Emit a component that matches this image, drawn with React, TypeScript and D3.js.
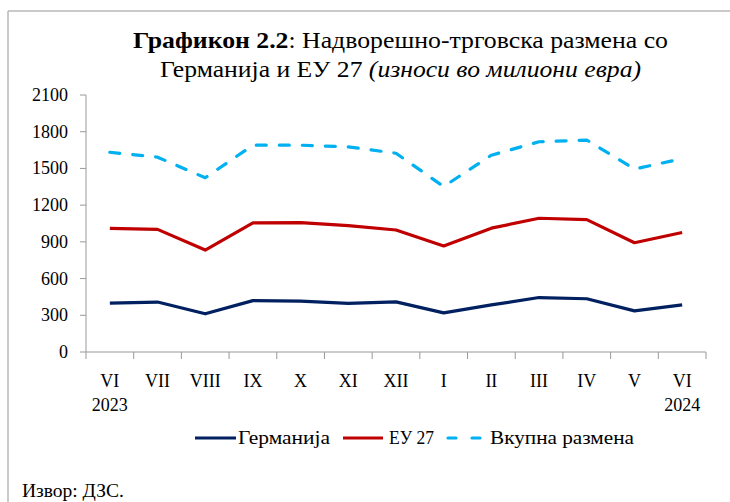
import React from "react";
import * as d3 from "d3";

const months = ["VI", "VII", "VIII", "IX", "X", "XI", "XII", "I", "II", "III", "IV", "V", "VI"];
const years = ["2023", "", "", "", "", "", "", "", "", "", "", "", "2024"];
const germany = [400, 408, 312, 420, 416, 398, 410, 320, 385, 445, 435, 336, 385];
const eu27 = [1010, 1002, 833, 1055, 1057, 1032, 997, 866, 1012, 1093, 1082, 893, 976];
const total = [1632, 1592, 1424, 1690, 1690, 1676, 1624, 1352, 1608, 1718, 1732, 1495, 1580];
const yTicks = [0, 300, 600, 900, 1200, 1500, 1800, 2100];

const seriesNames = ["Германија", "ЕУ 27", "Вкупна размена"];
const colors = ["#002060", "#C00000", "#00B0F0"];

export default function App() {
  const W = 730, H = 502;
  const x0 = 86, x1 = 706, yTop = 95, yBot = 352;
  const x = d3.scaleBand<number>().domain(d3.range(months.length)).range([x0, x1]);
  const y = d3.scaleLinear().domain([0, 2100]).range([yBot, yTop]);
  const cx = (i: number) => (x(i) as number) + x.bandwidth() / 2;
  const line = d3.line<number>().x((_, i) => cx(i)).y((d) => y(d));
  const series = [germany, eu27, total];
  const font = "'Liberation Serif', 'DejaVu Serif', serif";
  const legendLine = [[195, 236], [343, 383], [448, 482]];
  const legendText = [238, 389, 490];
  const legendLen = [92, 45, 144];

  return (
    <svg width={W} height={H} style={{ position: "absolute", left: 0, top: 0, background: "#fff" }} fontFamily={font}>
      <rect x={0} y={0} width={W} height={H} fill="#fff" />
      <line x1={8} y1={11} x2={W} y2={11} stroke="#b8b8b8" strokeWidth={1.5} />
      <line x1={8} y1={11} x2={8} y2={H} stroke="#b8b8b8" strokeWidth={1.5} />
      <text x={133} y={48} fontSize={24} fill="#000" fontFamily={font} textLength={535} lengthAdjust="spacingAndGlyphs">
        <tspan fontWeight="bold">Графикон 2.2</tspan>
        <tspan>: Надворешно-трговска размена со</tspan>
      </text>
      <text x={160} y={77} fontSize={24} fill="#000" fontFamily={font} textLength={481} lengthAdjust="spacingAndGlyphs">
        <tspan>Германија и ЕУ 27 </tspan>
        <tspan fontStyle="italic">(износи во милиони евра)</tspan>
      </text>
      {/* y axis */}
      <line x1={x0} y1={yTop} x2={x0} y2={yBot} stroke="#999" strokeWidth={1} />
      {yTicks.map((t) => (
        <g key={t}>
          <line x1={x0 - 6} x2={x0} y1={y(t)} y2={y(t)} stroke="#999" />
          <text x={68} y={y(t) + 6} textAnchor="end" fontSize={18} fill="#000" fontFamily={font}>{t}</text>
        </g>
      ))}
      {/* x axis */}
      <line x1={x0} y1={yBot} x2={x1} y2={yBot} stroke="#999" strokeWidth={1} />
      {d3.range(months.length + 1).map((i) => {
        const xx = i < months.length ? (x(i) as number) : x1;
        return <line key={i} x1={xx} x2={xx} y1={yBot} y2={yBot + 7} stroke="#999" />;
      })}
      {months.map((m, i) => (
        <g key={i}>
          <text x={cx(i)} y={387} textAnchor="middle" fontSize={18} fill="#000" fontFamily={font}>{m}</text>
          {years[i] && (
            <text x={cx(i)} y={411} textAnchor="middle" fontSize={18} fill="#000" fontFamily={font}>{years[i]}</text>
          )}
        </g>
      ))}
      {/* lines */}
      {series.map((s, k) => (
        <path
          key={k}
          d={line(s) || ""}
          fill="none"
          stroke={colors[k]}
          strokeWidth={3.2}
          strokeLinejoin="round"
          strokeLinecap={k === 2 ? "round" : "butt"}
          strokeDasharray={k === 2 ? "10 13" : undefined}
        />
      ))}
      {/* legend */}
      {seriesNames.map((n, k) => (
        <g key={n}>
          <line
            x1={legendLine[k][0]}
            x2={legendLine[k][1]}
            y1={438}
            y2={438}
            stroke={colors[k]}
            strokeWidth={3.2}
            strokeLinecap={k === 2 ? "round" : "butt"}
            strokeDasharray={k === 2 ? "8 16" : undefined}
          />
          <text x={legendText[k]} y={444} fontSize={19} fill="#000" fontFamily={font} textLength={legendLen[k]} lengthAdjust="spacingAndGlyphs">{n}</text>
        </g>
      ))}
      <text x={22} y={497} fontSize={19} fill="#000" fontFamily={font} textLength={102} lengthAdjust="spacingAndGlyphs">Извор: ДЗС.</text>
    </svg>
  );
}
